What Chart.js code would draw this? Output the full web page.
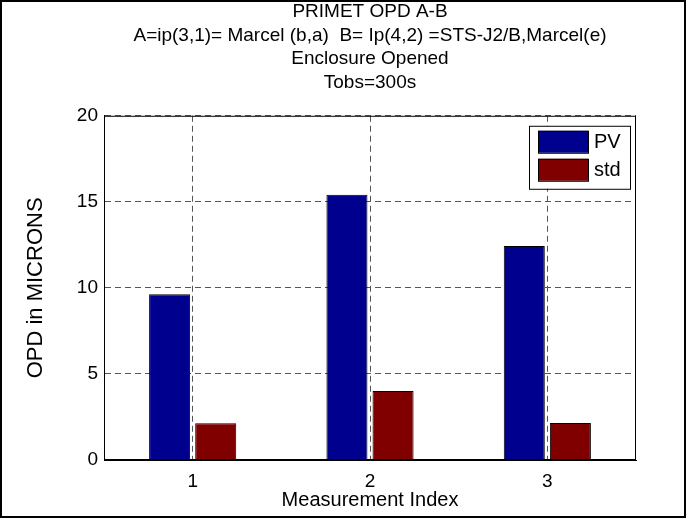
<!DOCTYPE html>
<html>
<head>
<meta charset="utf-8">
<script src="https://cdn.jsdelivr.net/npm/chart.js@4"></script>
<style>
  html, body { margin: 0; padding: 0; background: #fff; }
  #wrap { width: 686px; height: 518px; }
</style>
</head>
<body>
<div id="wrap"><canvas id="opd-chart" width="686" height="518"></canvas></div>
<script>
const categories = ["1", "2", "3"];
const pvValues = [9.63, 15.41, 12.44];
const stdValues = [2.13, 4.01, 2.15];
const seriesNames = ["PV", "std"];
const titleLines = [
  "PRIMET OPD A-B",
  "A=ip(3,1)= Marcel (b,a)  B= Ip(4,2) =STS-J2/B,Marcel(e)",
  "Enclosure Opened",
  "Tobs=300s",
];

const FONT = "'Liberation Sans', Arial, Helvetica, sans-serif";
Chart.defaults.font.family = FONT;
Chart.defaults.font.size = 19;
Chart.defaults.color = "#000";

// box around the axes, legend with a frame, and the outer border
const framePlugin = {
  id: "frame",
  afterDatasetsDraw(chart) {
    const { ctx, chartArea: a } = chart;
    ctx.save();
    ctx.strokeStyle = "#000";
    ctx.lineWidth = 1;
    ctx.strokeRect(a.left + 0.5, a.top + 0.5, a.right - a.left - 1, a.bottom - a.top - 1);

    // legend
    const boxW = 101, boxH = 63;
    const bx = a.right - 6 - boxW, by = a.top + 10;
    ctx.fillStyle = "#fff";
    ctx.fillRect(bx, by, boxW, boxH);
    ctx.strokeRect(bx + 0.5, by + 0.5, boxW, boxH);
    ctx.font = "20px " + FONT;
    ctx.textBaseline = "middle";
    chart.data.datasets.forEach((ds, i) => {
      const sy = by + 5 + i * 28;
      ctx.fillStyle = ds.backgroundColor;
      ctx.fillRect(bx + 9, sy, 50, 22);
      ctx.strokeRect(bx + 9.5, sy + 0.5, 50, 22);
      ctx.fillStyle = "#000";
      ctx.fillText(ds.label, bx + 65, sy + 12);
    });

    ctx.lineWidth = 2;
    ctx.strokeRect(1, 1, chart.width - 2, chart.height - 2);
    ctx.restore();
  },
};

new Chart(document.getElementById("opd-chart"), {
  type: "bar",
  data: {
    labels: categories,
    datasets: [
      {
        label: seriesNames[0],
        data: pvValues,
        backgroundColor: "#00008f",
        borderColor: "#000",
        borderWidth: 1,
      },
      {
        label: seriesNames[1],
        data: stdValues,
        backgroundColor: "#800000",
        borderColor: "#000",
        borderWidth: 1,
      },
    ],
  },
  options: {
    responsive: false,
    animation: false,
    layout: { padding: { left: 0, right: 50, top: 0, bottom: 0 } },
    datasets: {
      bar: { categoryPercentage: 0.52, barPercentage: 0.89 },
    },
    plugins: {
      legend: { display: false },
      tooltip: { enabled: false },
      title: {
        display: true,
        fullSize: false,
        text: titleLines,
        color: "#000",
        font: { size: 19, weight: "normal", lineHeight: 1.247 },
        padding: { top: 0, bottom: 21 },
      },
    },
    scales: {
      x: {
        offset: true,
        grid: { offset: false, color: "#555", drawTicks: false },
        border: { display: true, color: "#000", width: 1, dash: [6, 4] },
        ticks: { padding: 10, font: { size: 19 } },
        title: {
          display: true,
          text: "Measurement Index",
          font: { size: 20 },
          padding: { top: 0, bottom: 6 },
        },
        afterFit: (scale) => { scale.height = 58; },
      },
      y: {
        min: 0,
        max: 20,
        ticks: { stepSize: 5, padding: 6, font: { size: 19 } },
        grid: { color: "#555", drawTicks: false },
        border: { display: true, color: "#000", width: 1, dash: [6, 4] },
        title: {
          display: true,
          text: "OPD in MICRONS",
          font: { size: 22 },
          padding: { top: 23, bottom: 0 },
        },
        afterFit: (scale) => { scale.width = 104; },
      },
    },
  },
  plugins: [framePlugin],
});
</script>
</body>
</html>
